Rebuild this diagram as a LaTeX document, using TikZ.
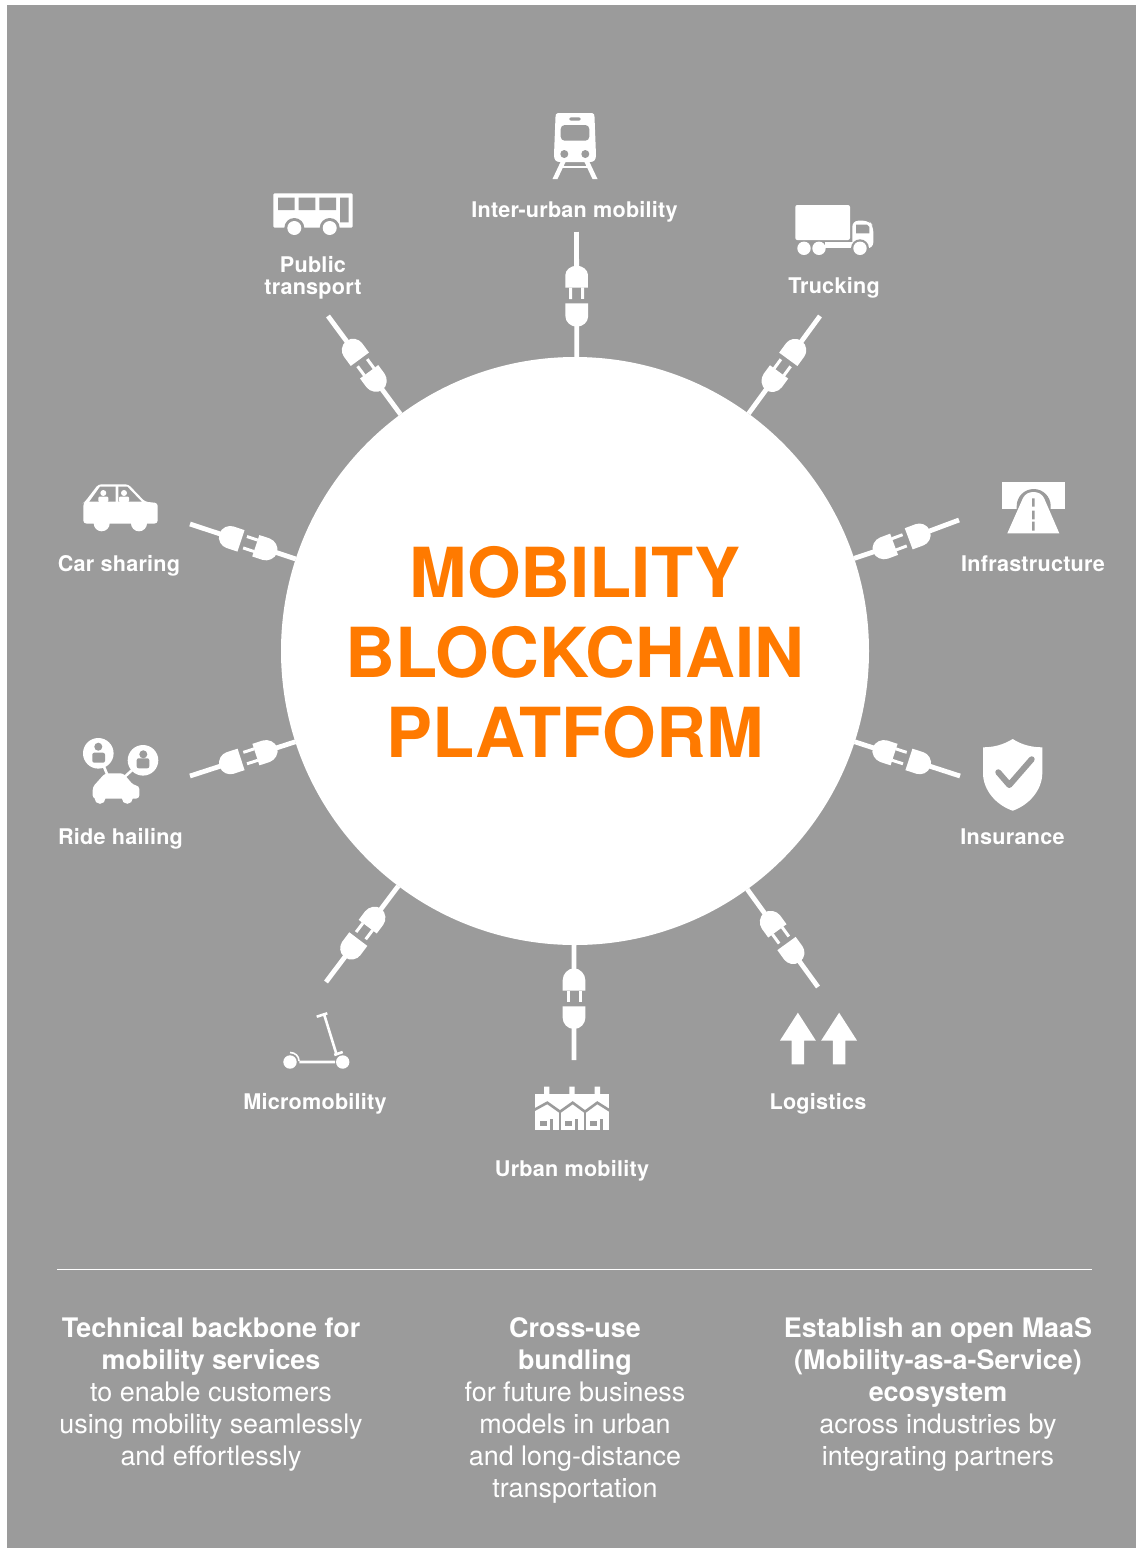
\documentclass[tikz,border=0pt]{standalone}
\usepackage{fontspec}
\setmainfont{TeX Gyre Heros}
\newfontfamily\labelFont[LetterSpace=1.1]{TeX Gyre Heros}
\definecolor{panelColor}{HTML}{9B9B9B}
\definecolor{titleColor}{HTML}{FF7A00}
\tikzset{
	panel/.style={x=0.5pt,y=-0.5pt},
	hubDisc/.style={circle,fill=white,minimum size=294pt,inner sep=0pt,outer sep=0pt},
	titleText/.style={anchor=center,inner sep=0pt,align=center,text=titleColor,font=\fontsize{34.5}{40}\selectfont\bfseries},
	spokeLabel/.style={anchor=base,inner sep=0pt,align=center,text=white,font=\labelFont\fontsize{10.8}{11}\selectfont\bfseries},
	bodyText/.style={anchor=north,inner sep=0pt,align=center,text=white,font=\fontsize{13.45}{16}\selectfont},
	spokeWire/.style={white,line width=2.4pt},
	iconHole/.style={fill=panelColor},
	pics/plugSocket/.style={code={
		\coordinate (-outer) at (33,0);
		\coordinate (-inner) at (90,0);
		\fill[white] (53.7,-11.3) -- (53.7,11.3) -- (42,11.3) .. controls (37,11.3) and (31,7) .. (31,0) .. controls (31,-7) and (37,-11.3) .. (42,-11.3) -- cycle;
		\fill[white] (69.3,-11.3) -- (69.3,11.3) -- (80,11.3) .. controls (86,11.3) and (91.7,6) .. (91.7,0) .. controls (91.7,-6) and (86,-11.3) .. (80,-11.3) -- cycle;
		\fill[white] (58,-7.5) rectangle (69.5,-4.5);
		\fill[white] (58,4.5) rectangle (69.5,7.5);
	}},
	pics/plugPins/.style={code={
		\coordinate (-outer) at (35,0);
		\coordinate (-inner) at (93,0);
		\fill[white] (55.7,-11.3) -- (55.7,11.3) -- (43,11.3) .. controls (38,11.3) and (33.7,6) .. (33.7,0) .. controls (33.7,-6) and (38,-11.3) .. (43,-11.3) -- cycle;
		\fill[white] (55.5,-7.5) rectangle (67,-4.5);
		\fill[white] (55.5,4.5) rectangle (67,7.5);
		\fill[white] (71.3,-11.3) -- (71.3,11.3) -- (84.7,11.3) .. controls (90,11.3) and (94.7,6) .. (94.7,0) .. controls (94.7,-6) and (90,-11.3) .. (84.7,-11.3) -- cycle;
	}},
}
\begin{document}
\begin{tikzpicture}[panel]
	\useasboundingbox (0,0) rectangle (1136,1548);
	\fill[white] (0,0) rectangle (1136,1548);
	\fill[panelColor] (7,5) rectangle (1136,1548);

	\node [hubDisc] (hub) at (575,651) {};
	\node [titleText] (title) at (575,652) {MOBILITY\\BLOCKCHAIN\\PLATFORM};

	\coordinate (tipTop) at (576.5,232);
	\pic[rotate=-89.8] (tipTop) at (tipTop) {plugPins};
	\draw[spokeWire] (hub) -- (tipTop-inner) (tipTop-outer) -- (tipTop);
	\foreach \tipName/\tipX/\tipY/\tipTurn in {tipTruck/820/316/233.8,tipInfra/959/520/200.5,tipInsure/960/776/162,tipLogi/818/987/125.9,tipUrban/574/1060/90,tipMicro/326/982/53,tipRide/190/776/18,tipCar/190/524/-18.3,tipBus/328/316/-53.6}{
		\coordinate (\tipName) at (\tipX,\tipY);
		\pic[rotate=\tipTurn] (\tipName) at (\tipName) {plugSocket};
		\draw[spokeWire] (hub) -- (\tipName-inner) (\tipName-outer) -- (\tipName);
	}

	% train
	\fill[white] (558,113) -- (592,113) .. controls (594,113) and (594.5,115) .. (594.5,117) -- (596,155) .. controls (596,160) and (594,162) .. (590,162) -- (560,162) .. controls (556,162) and (554,160) .. (554,155) -- (555.5,117) .. controls (555.5,115) and (556,113) .. (558,113) -- cycle;
	\fill[iconHole,rounded corners=2pt] (560.7,125) rectangle (589.3,140.7);
	\fill[iconHole,rounded corners=1pt] (569.3,117.3) rectangle (580.7,120.7);
	\fill[iconHole] (564.3,154) circle [radius=4];
	\fill[iconHole] (585.3,154) circle [radius=4];
	\fill[white] (561,161) -- (566,161) -- (557.5,179) -- (552.5,179) -- cycle (589,161) -- (584,161) -- (592.5,179) -- (597.5,179) -- cycle;
	\fill[white] (562,165.5) rectangle (588,168);
	% bus
	\fill[white,rounded corners=0.6pt] (273.3,193.3) rectangle (352.7,227.5);
	\fill[iconHole] (278,197.7) rectangle (294.7,210) (298.7,197.7) rectangle (315.3,210) (319.3,197.7) rectangle (336,210) (340,197.7) rectangle (348.7,222.3);
	\fill[iconHole] (294.3,228) circle [radius=10] (329.7,228) circle [radius=10];
	\fill[white] (294.3,228) circle [radius=7] (329.7,228) circle [radius=7];
	\fill[iconHole] (273,228.5) -- (284,229) -- (284,232) -- (273,232) -- cycle;
	% truck
	\fill[white,rounded corners=1pt] (795.3,205) rectangle (850,240);
	\fill[white,rounded corners=3pt] (852.3,248.3) -- (852.3,220.7) -- (869,220.7) -- (873.3,226) -- (873.3,248.3) -- cycle;
	\fill[iconHole] (856,224.7) -- (867,224.7) -- (869.3,227) -- (869.3,233.3) -- (856,233.3) -- cycle;
	\fill[white] (825,242.3) rectangle (853,248.3);
	\fill[iconHole] (860,248.3) circle [radius=9];
	\fill[white] (804,248.3) circle [radius=6.7] (819,248.3) circle [radius=6.7] (860,248.3) circle [radius=6.7];
	% tunnel
	\fill[white] (1001.7,482) rectangle (1065,509.3);
	\fill[iconHole] (1016.7,509.3) -- (1016.7,506) arc [start angle=180,end angle=360,radius=17] -- (1050.7,509.3) -- cycle;
	\fill[white] (1007.3,533.3) -- (1023,498) .. controls (1025,494) and (1029,492) .. (1033.5,492) .. controls (1038,492) and (1042,494) .. (1044,498) -- (1059.3,533.3) -- cycle;
	\fill[iconHole] (1032,498.3) rectangle (1034.7,506.7) (1032,510.7) rectangle (1034.7,519.3) (1032,521.7) rectangle (1034.7,530.7);
	% shield
	\fill[white] (1012.7,739) .. controls (1003,745) and (993,747.3) .. (983,747.3) -- (983,773) .. controls (983,790) and (996,805) .. (1012.7,810.7) .. controls (1029,805) and (1042.3,790) .. (1042.3,773) -- (1042.3,747.3) .. controls (1032,747.3) and (1022,745) .. (1012.7,739) -- cycle;
	\draw[panelColor,line width=3pt,line cap=round,line join=round] (998.3,772.3) -- (1009.3,785) -- (1031.7,759.3);
	% arrows
	\foreach \arrowX in {797.9,839.1}{
		\fill[white] (\arrowX,1012.7) -- ({\arrowX+18},1040.7) -- ({\arrowX+6.2},1040.7) -- ({\arrowX+6.2},1064.3) -- ({\arrowX-6.2},1064.3) -- ({\arrowX-6.2},1040.7) -- ({\arrowX-18},1040.7) -- cycle;
	}
	% houses
	\fill[white] (535,1094) rectangle (609,1130);
	\fill[white] (544,1086.7) rectangle (549.3,1094) (569.3,1086.7) rectangle (574.7,1094) (594.7,1086.7) rectangle (600,1094);
	\draw[panelColor,line width=1.3pt] (534,1110) -- (547.3,1102.7) -- (560,1111.7) -- (572.7,1102.7) -- (585,1111.7) -- (597.3,1102.7) -- (610,1110.7);
	\draw[panelColor,line width=0.8pt] (560,1111.7) -- (560,1130) (585,1111.7) -- (585,1130);
	\foreach \houseX in {0,25,50}{
		\fill[iconHole] ({539.5+\houseX},1120.7) rectangle ({546.5+\houseX},1126);
		\fill[iconHole] ({550+\houseX},1119) rectangle ({552.7+\houseX},1130);
	}
	% scooter
	\fill[white] (290,1062) circle [radius=6.7] (342.7,1062) circle [radius=6.7];
	\draw[white,line width=1.3pt] (299.3,1062) -- (335,1062) (324,1014) -- (336.7,1055) (316.7,1016.7) -- (327.3,1013.3) (334.3,1055) -- (342.7,1052);
	\draw[white,line width=0.8pt] (290,1052.5) .. controls (295,1052.5) and (299,1056) .. (299,1061);
	% car
	\fill[white,rounded corners=1.5pt] (83.3,523.5) -- (83.3,503) -- (85,501.7) -- (98.3,484.3) -- (128.3,484.3) -- (145,501.7) -- (157.7,503) -- (157.7,523.5) -- cycle;
	\fill[white] (101.7,523.3) circle [radius=8] (139,523.3) circle [radius=8];
	\fill[iconHole] (100,486.7) -- (115.7,486.7) -- (115.7,501.7) -- (89.3,501.7) -- cycle;
	\fill[iconHole] (118.3,486.7) -- (127.3,486.7) -- (141.7,501.7) -- (118.3,501.7) -- cycle;
	\fill[white] (103.3,493) circle [radius=3] (124,493) circle [radius=3];
	\fill[white,rounded corners=0.5pt] (98.3,496.7) rectangle (108.3,502) (119,496.7) rectangle (129,502);
	% ride
	\draw[white,line width=1.3pt] (98.3,753.3) -- (108.3,777) (143,760.3) -- (123.3,778);
	\fill[white] (98.3,753.3) circle [radius=15.3] (143,760.3) circle [radius=15.3];
	\fill[iconHole] (98.3,746.7) circle [radius=4] (143.3,754.3) circle [radius=4];
	\fill[iconHole,rounded corners=1pt] (92.3,752.7) rectangle (105,762.7) (136.7,758.3) rectangle (149.3,768.3);
	\fill[white,rounded corners=1.5pt] (92.7,798.5) -- (92.7,787) -- (105,773.3) -- (123.3,773.3) -- (133.3,785) -- (139.3,786) -- (139.3,798.5) -- cycle;
	\fill[white] (100,798.3) circle [radius=5.5] (127.3,798.3) circle [radius=5.5];

	\node [spokeLabel] (labelTop) at (574.5,217.7) {Inter-urban mobility};
	\node [spokeLabel] (labelBusA) at (313,272.7) {Public};
	\node [spokeLabel] (labelBusB) at (313,294.5) {transport};
	\node [spokeLabel] (labelTruck) at (834,293.7) {Trucking};
	\node [spokeLabel] (labelInfra) at (1033,571.7) {Infrastructure};
	\node [spokeLabel] (labelInsure) at (1012.5,844.5) {Insurance};
	\node [spokeLabel] (labelLogi) at (818,1109) {Logistics};
	\node [spokeLabel] (labelUrban) at (572,1176.7) {Urban mobility};
	\node [spokeLabel] (labelMicro) at (315,1109.3) {Micromobility};
	\node [spokeLabel] (labelRide) at (120.5,844.3) {Ride hailing};
	\node [spokeLabel] (labelCar) at (119,571.7) {Car sharing};

	\coordinate (ruleLeft) at (57,1269.5);
	\coordinate (ruleRight) at (1092,1269.5);
	\draw[white,line width=0.6pt] (ruleLeft) -- (ruleRight);

	\node [bodyText] (colLeft) at (211,1317) {\textbf{Technical backbone for}\\\textbf{mobility services}\\to enable customers\\using mobility seamlessly\\and effortlessly};
	\node [bodyText] (colMid) at (575,1317) {\textbf{Cross-use}\\\textbf{bundling}\\for future business\\models in urban\\and long-distance\\transportation};
	\node [bodyText] (colRight) at (938,1317) {\textbf{Establish an open MaaS}\\\textbf{(Mobility-as-a-Service)}\\\textbf{ecosystem}\\across industries by\\integrating partners};
\end{tikzpicture}
\end{document}
